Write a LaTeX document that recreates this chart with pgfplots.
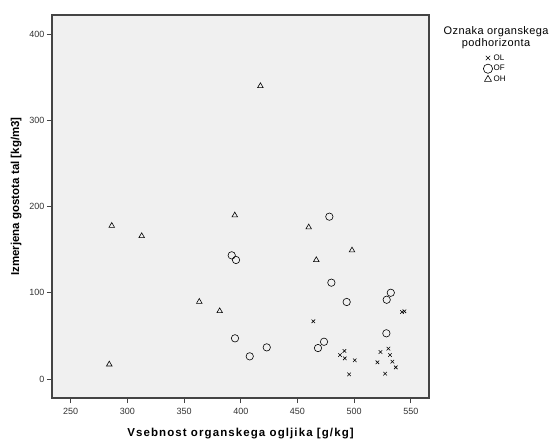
\documentclass[border=0pt]{standalone}
\usepackage{fontspec}
\setmainfont{Liberation Sans}
\newfontfamily\xlabfont[LetterSpace=9.5]{Liberation Sans}
\newfontfamily\titlefont[LetterSpace=4]{Liberation Sans}
\usepackage{pgfplots}
\pgfplotsset{compat=1.18}
\definecolor{bggray}{HTML}{F0F0F0}
\definecolor{framegray}{HTML}{444444}
\definecolor{ticktext}{HTML}{333333}
\begin{document}
\begin{tikzpicture}[x=1pt,y=1pt]
\begin{axis}[
  name=main,
  scale only axis,
  width=377pt, height=383pt,
  xmin=233.5, xmax=566,
  ymin=-22, ymax=422,
  xtick={250,300,...,550},
  ytick={0,100,200,300,400},
  tick align=outside,
  major tick length=5pt,
  tick style={framegray, line width=0.8pt},
  xtick pos=bottom, ytick pos=left,
  axis line style={framegray, line width=1.2pt},
  axis background/.style={fill=bggray},
  ticklabel style={font=\fontsize{9}{10}\selectfont, text=ticktext},
  xticklabel style={yshift=-2pt},
  yticklabel style={xshift=1pt},
  /pgf/number format/assume math mode=true,
  xlabel={\xlabfont\bfseries Vsebnost organskega ogljika [g/kg]},
  ylabel={\bfseries Izmerjena gostota tal [kg/m3]},
  label style={font=\fontsize{11.5}{13}\selectfont},
  xlabel style={yshift=-6pt},
  ylabel style={at={(ticklabel cs:0.526)}, yshift=1pt},
  clip=false,
  legend style={at={(rel axis cs:1.175,0.900)}, anchor=north, draw=none, fill=none,
    font=\fontsize{8}{9}\selectfont, row sep=1.5pt, inner sep=0pt,
    nodes={inner sep=1pt}},
  legend cell align=left,
  legend image code/.code={\draw[#1, mark options={scale=1.25}] plot coordinates {(0.1cm,0cm)};},
]
\addplot[only marks, mark=x, mark size=2.5pt, black, line width=0.6pt] coordinates {
(464,66.9) (544.3,78.5) (542.2,77.7) (491.4,32.5) (530.2,35.2) (523.2,31.3)
(487.5,27.8) (531.6,27.8) (491.7,24) (500.5,21.7) (520.5,19.4) (533.7,20.1)
(536.7,13.5) (495.5,5.4) (527.3,6.2)
};
\addplot[only marks, mark=o, mark size=3.7pt, black, line width=0.6pt] coordinates {
(392,143.4) (395.8,138) (394.9,47.2) (422.9,36.7) (407.9,26.3) (478.1,188.2)
(479.9,111.7) (532.3,100) (528.7,91.9) (493.4,89.3) (528.4,53) (473.4,43.2) (468.1,35.9)
};
\addplot[only marks, mark=triangle, mark size=3.2pt, black, line width=0.6pt] coordinates {
(417.3,339.7) (394.7,189.8) (286.2,177.7) (312.6,165.8) (363.4,89.6) (381.4,78.8)
(284,17) (459.9,175.9) (498.1,149.2) (466.6,138)
};
\legend{OL,OF,OH}
\node[align=center, font=\titlefont\fontsize{11}{12}\selectfont, anchor=north, inner sep=0pt] at (rel axis cs:1.178,0.97) {Oznaka organskega\\podhorizonta};
\end{axis}
\path[use as bounding box] ([xshift=-52pt,yshift=-41pt]main.south west) rectangle ([xshift=124pt,yshift=15pt]main.north east);
\end{tikzpicture}
\end{document}
